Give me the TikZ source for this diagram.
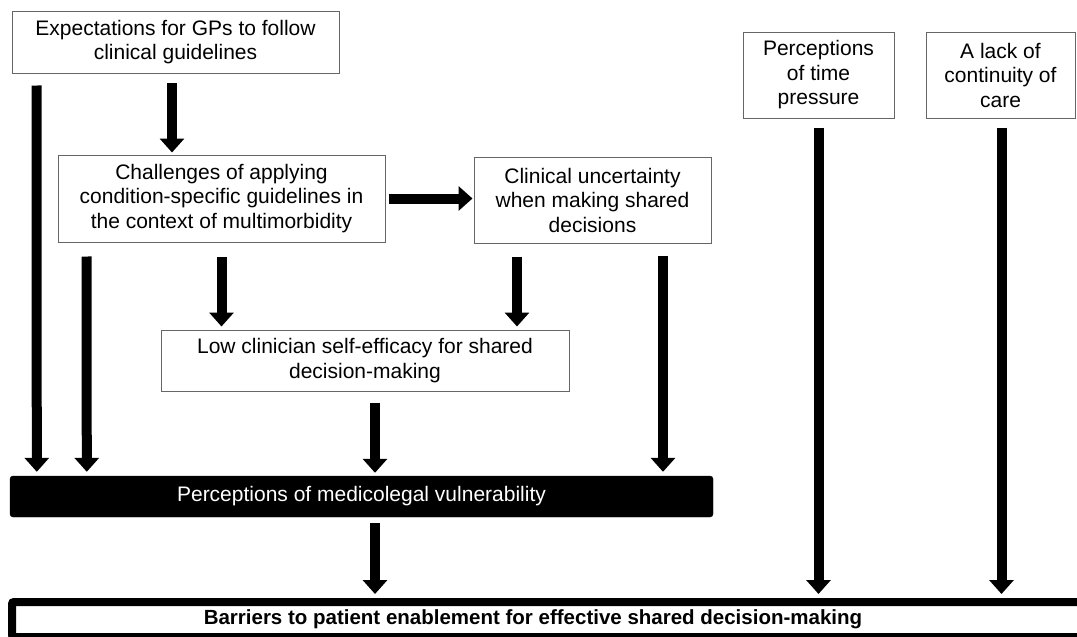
\documentclass[tikz,border=0pt]{standalone}
\usepackage{fontspec}
\setmainfont{Liberation Sans}
\usetikzlibrary{arrows.meta}

\tikzset{
  fat/.style={line width=10pt,-{Triangle[length=14pt,width=24pt]}},
  box/.style={draw=black!60,line width=1pt,align=center,inner sep=2pt},
}

\begin{document}
\begin{tikzpicture}[x=1pt,y=-1pt,font=\fontsize{21}{24.5}\selectfont]

        \useasboundingbox (0,0) rectangle (1077,637);
        \clip (0,0) rectangle (1077,637);

        \begin{scope}[every node/.style={box}]
          \node[minimum width=327pt,minimum height=62pt] (1) at (175.5,42)  {Expectations for GPs to follow\\clinical guidelines};
          \node[minimum width=327pt,minimum height=87pt] (2) at (221.5,198.5) {Challenges of applying\\condition-specific guidelines in\\the context of multimorbidity};
          \node[minimum width=237pt,minimum height=86pt] (3) at (592.5,200) {Clinical uncertainty\\when making shared\\decisions};
          \node[minimum width=408pt,minimum height=61pt] (4) at (365,360.5) {Low clinician self-efficacy for shared\\decision-making};
          \node[minimum width=151pt,minimum height=86pt] (6) at (818.5,75) {Perceptions\\of time\\pressure};
          \node[minimum width=149pt,minimum height=86pt] (7) at (1000.5,75) {A lack of\\continuity of\\care};
        \end{scope}

        \node[fill=black,draw=black,text=white,rounded corners=3pt,
              minimum width=703pt,minimum height=41pt] (5) at (361.5,496.5)
              {Perceptions of medicolegal vulnerability};

        \node[draw=black,line width=8pt,rounded corners=2pt,
              minimum width=1100pt,minimum height=35pt,
              label={[xshift=-29pt,font=\fontsize{20.5}{24}\selectfont\bfseries]center:Barriers to patient enablement for effective shared decision-making}]
              (9) at (562,619.5) {};

        \begin{scope}[every edge/.style={draw,fat}]
          \path ([xshift=25pt,yshift=-12pt]1.south west) edge ([xshift=27pt,yshift=4pt]5.north west);
          \path ([xshift=-3.5pt,yshift=-9pt]1.south) edge ([xshift=-3.5pt,yshift=2pt]1.south |- 2.north);
          \path ([xshift=3pt]2.east) edge ([xshift=-1pt]2.east -| 3.west);
          \path ([xshift=29pt,yshift=-14pt]2.south west) edge ([xshift=77pt,yshift=4pt]5.north west);
          \path ([yshift=-14pt]2.south) edge ([yshift=3pt]2.south |- 4.north);
          \path ([xshift=-75.5pt,yshift=-13pt]3.south) edge ([xshift=-75.5pt,yshift=3pt]3.south |- 4.north);
          \path ([xshift=70.5pt,yshift=-12pt]3.south) edge ([xshift=70.5pt,yshift=4pt]3.south |- 5.north);
          \path ([xshift=10pt,yshift=-11pt]4.south) edge ([xshift=10pt,yshift=3pt]4.south |- 5.north);
          \path ([xshift=13.5pt,yshift=-6pt]5.south) edge ([xshift=13.5pt,yshift=4pt]5.south |- 9.north);
          \path ([yshift=-9pt]6.south) edge ([yshift=4pt]6.south |- 9.north);
          \path ([xshift=1pt,yshift=-9pt]7.south) edge ([xshift=1pt,yshift=4pt]7.south |- 9.north);
        \end{scope}

      \end{tikzpicture}
\end{document}
